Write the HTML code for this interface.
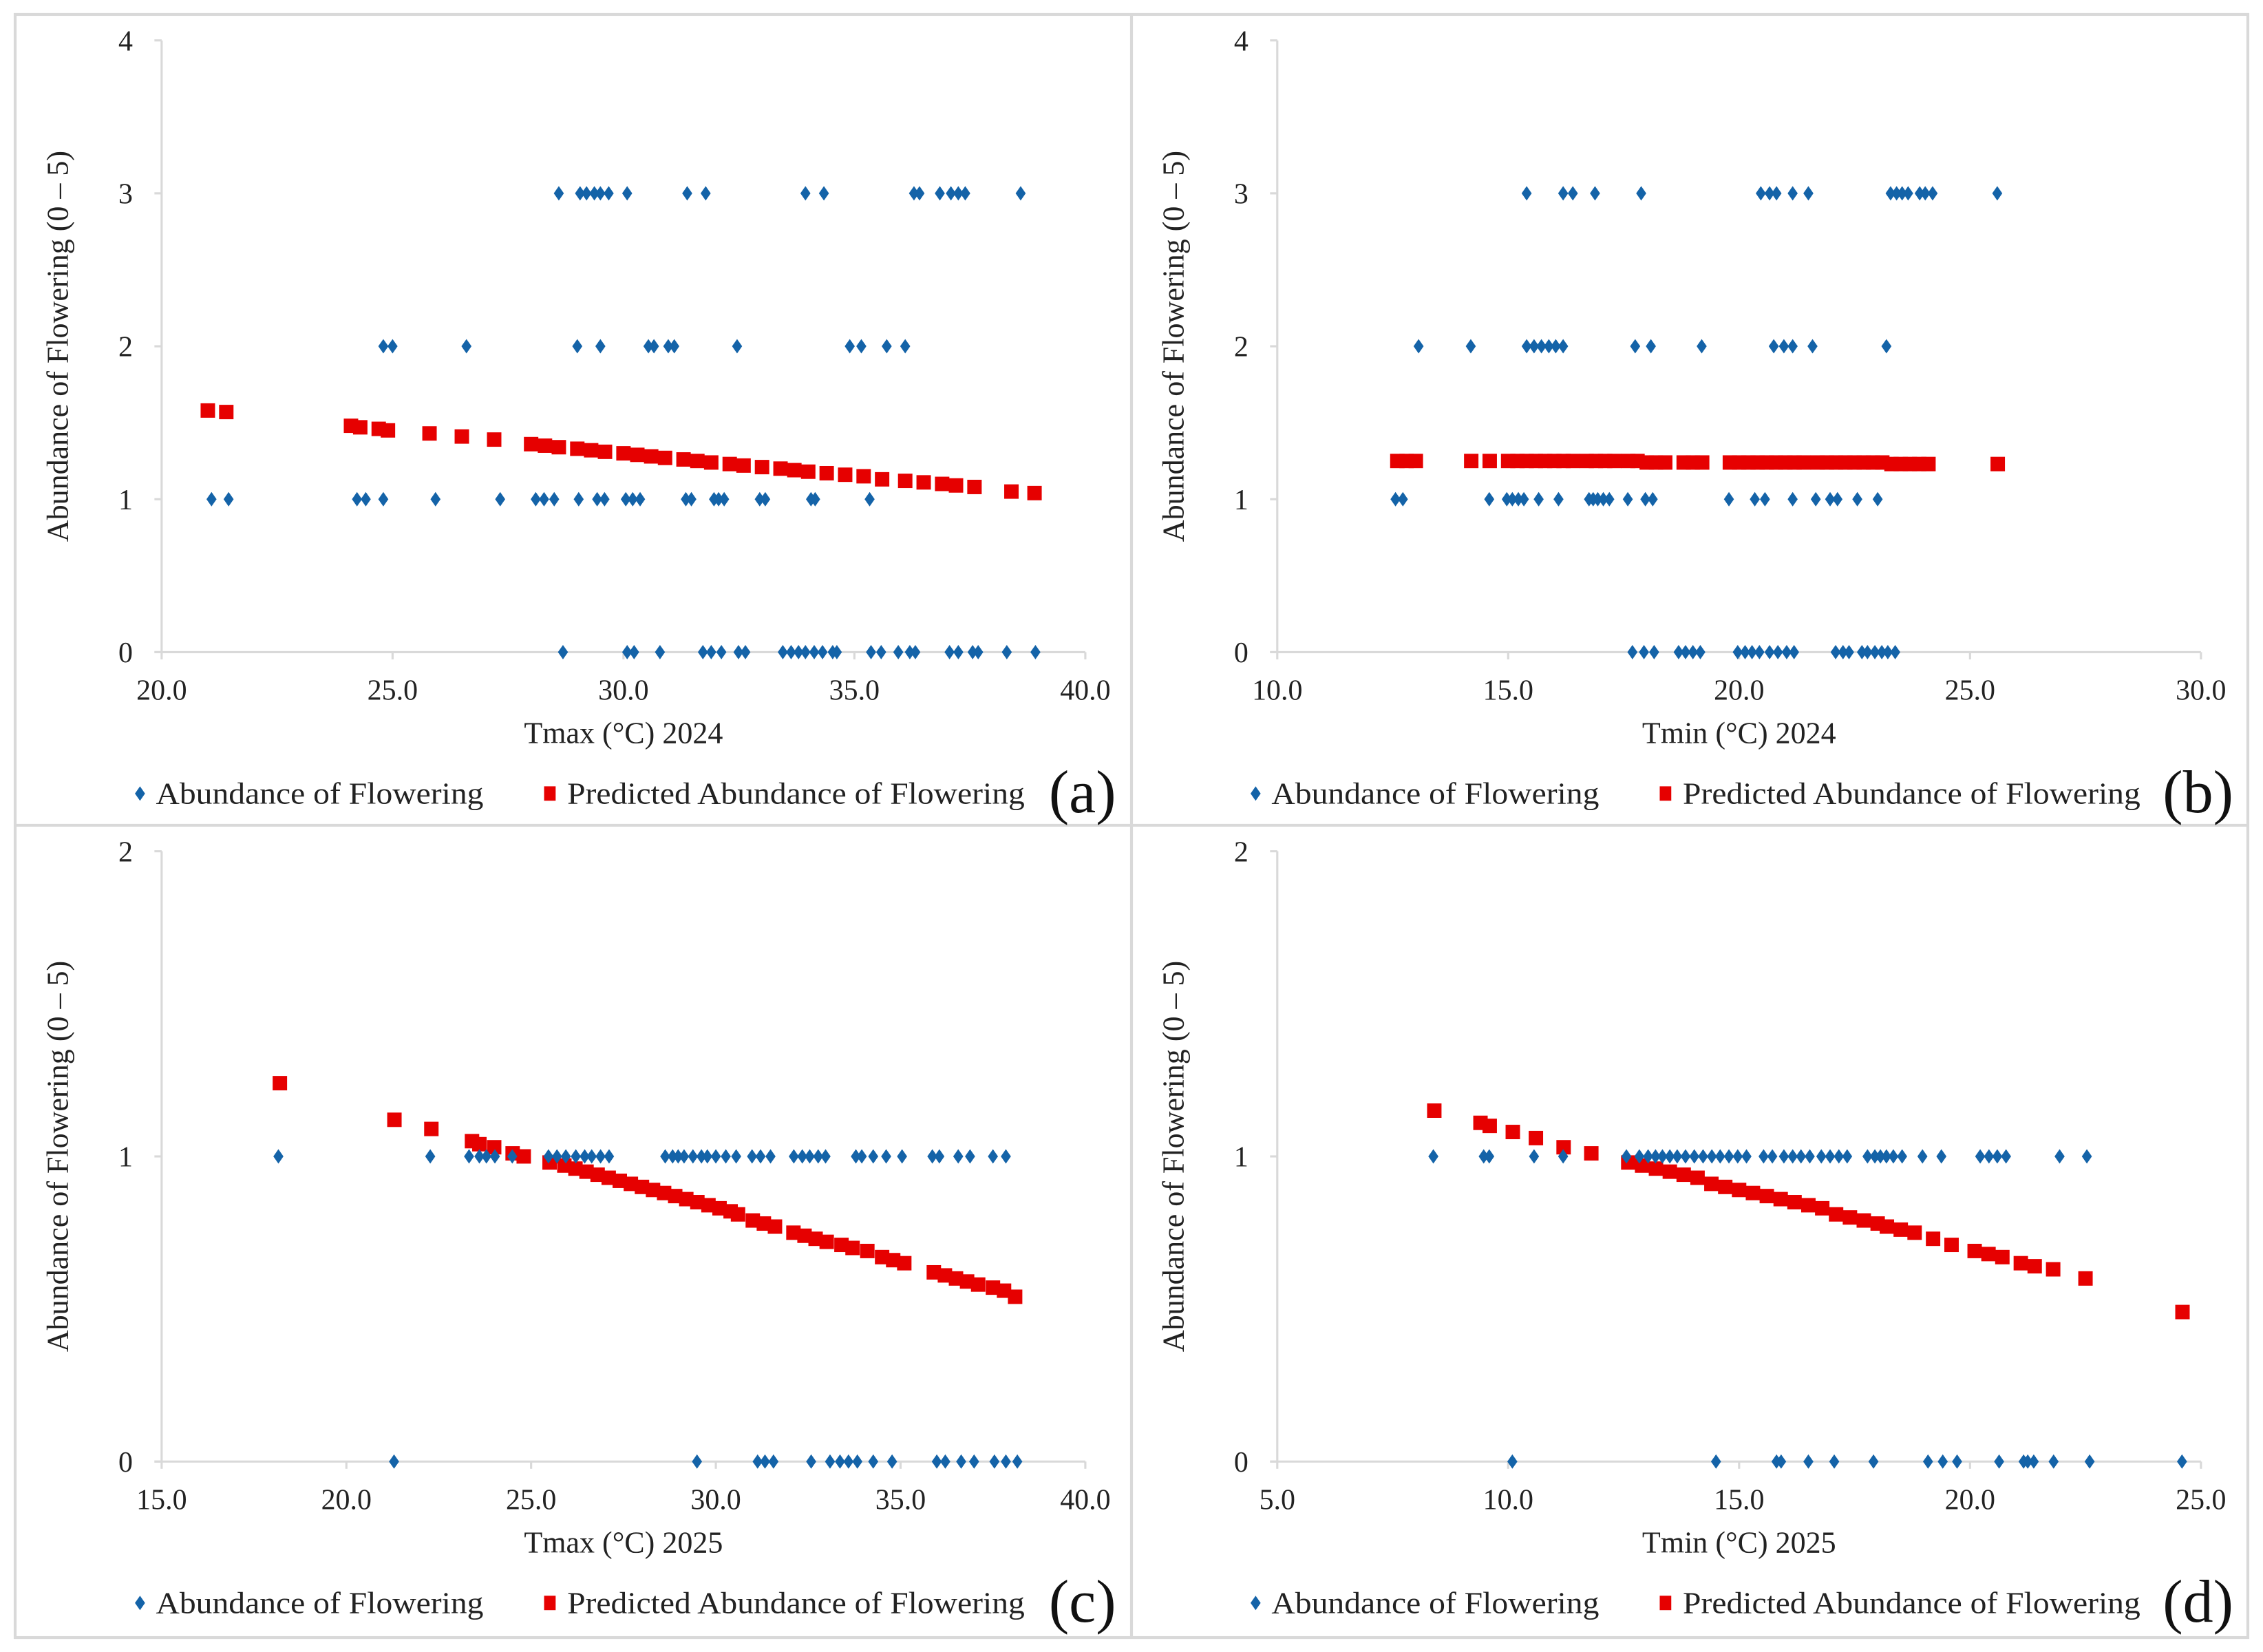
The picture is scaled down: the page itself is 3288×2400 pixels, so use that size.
<!DOCTYPE html>
<html><head><meta charset="utf-8"><style>
html,body{margin:0;padding:0;background:#fff;}
svg{display:block;font-family:"Liberation Serif",serif;}
svg text{font-family:"Liberation Serif",serif;}
</style></head><body>
<svg id="chart" width="3288" height="2400" viewBox="0 0 1568 1145" preserveAspectRatio="none" xmlns="http://www.w3.org/2000/svg">
<rect x="10.5" y="10" width="1547" height="1125" fill="#fff" stroke="#d9d9d9" stroke-width="2"/>
<line x1="784" y1="10" x2="784" y2="1135" stroke="#d9d9d9" stroke-width="2"/>
<line x1="10" y1="572" x2="1557" y2="572" stroke="#d9d9d9" stroke-width="2"/>
</svg>
<script>
// Panel (a) Tmax 2024
const aObsX3=[28.6,29.06,29.2,29.37,29.5,29.68,30.08,31.38,31.78,33.94,34.34,36.29,36.41,36.85,37.09,37.25,37.4,38.6];
const aObsX2=[24.8,25.0,26.6,29.0,29.5,30.54,30.66,30.97,31.1,32.46,34.9,35.15,35.7,36.1];
const aObsX1=[21.08,21.45,24.23,24.42,24.8,25.93,27.33,28.1,28.28,28.5,29.03,29.43,29.59,30.05,30.2,30.36,31.35,31.47,31.96,32.06,32.18,32.95,33.07,34.06,34.15,35.33];
const aObsX0=[28.69,30.08,30.23,30.79,31.72,31.9,32.12,32.49,32.64,33.45,33.63,33.79,33.94,34.13,34.31,34.53,34.62,35.36,35.58,35.95,36.2,36.32,37.06,37.25,37.56,37.68,38.3,38.92];
const aPredX=[21.0,21.4,24.1,24.3,24.7,24.9,25.8,26.5,27.2,28.0,28.3,28.6,29.0,29.3,29.6,30.0,30.3,30.6,30.9,31.3,31.6,31.9,32.3,32.6,33.0,33.4,33.7,34.0,34.4,34.8,35.2,35.6,36.1,36.5,36.9,37.2,37.6,38.4,38.9];
const aPredY=[1.58,1.57,1.48,1.47,1.46,1.45,1.43,1.41,1.39,1.36,1.35,1.34,1.33,1.32,1.31,1.30,1.29,1.28,1.27,1.26,1.25,1.24,1.23,1.22,1.21,1.20,1.19,1.18,1.17,1.16,1.15,1.13,1.12,1.11,1.10,1.09,1.08,1.05,1.04];
// Panel (b) Tmin 2024
const bObsX3=[15.4,16.19,16.4,16.88,17.88,20.47,20.66,20.81,21.16,21.5,23.28,23.41,23.53,23.66,23.91,24.03,24.19,25.59];
const bObsX2=[13.06,14.19,15.4,15.56,15.72,15.88,16.03,16.19,17.75,18.09,19.19,20.75,20.97,21.16,21.59,23.19];
const bObsX1=[12.56,12.72,14.59,14.97,15.09,15.22,15.34,15.66,16.09,16.75,16.84,16.94,17.06,17.19,17.59,17.97,18.13,19.78,20.34,20.56,21.16,21.66,21.97,22.13,22.56,23.0];
const bObsX0=[17.69,17.94,18.16,18.69,18.84,19.0,19.16,19.97,20.13,20.28,20.44,20.66,20.84,21.03,21.19,22.09,22.25,22.38,22.66,22.78,22.94,23.09,23.22,23.38];
const bPredX=[12.6,12.8,13.0,14.2,14.6,15.0,15.2,15.4,15.6,15.8,16.0,16.2,16.4,16.7,16.9,17.1,17.3,17.6,17.8,18.0,18.2,18.4,18.8,19.0,19.2,19.8,20.0,20.2,20.4,20.6,20.8,21.0,21.2,21.4,21.7,21.9,22.1,22.3,22.5,22.7,22.9,23.1,23.3,23.5,23.7,23.9,24.1,25.6];
const bPredY=[1.25,1.25,1.25,1.25,1.25,1.25,1.25,1.25,1.25,1.25,1.25,1.25,1.25,1.25,1.25,1.25,1.25,1.25,1.25,1.24,1.24,1.24,1.24,1.24,1.24,1.24,1.24,1.24,1.24,1.24,1.24,1.24,1.24,1.24,1.24,1.24,1.24,1.24,1.24,1.24,1.24,1.24,1.23,1.23,1.23,1.23,1.23,1.23];
// Panel (c) Tmax 2025
const cObsX1=[18.16,22.27,23.32,23.6,23.79,24.02,24.49,25.47,25.7,25.94,26.21,26.45,26.64,26.88,27.11,28.63,28.83,28.98,29.14,29.38,29.61,29.77,30.0,30.27,30.55,30.98,31.21,31.48,32.11,32.34,32.54,32.77,32.97,33.79,33.95,34.26,34.61,35.04,35.86,36.05,36.56,36.88,37.5,37.85];
const cObsX0=[21.29,29.49,31.13,31.33,31.56,32.58,33.09,33.36,33.59,33.83,34.26,34.77,35.98,36.21,36.64,36.99,37.54,37.85,38.16];
const cPredX=[18.2,21.3,22.3,23.4,23.6,24.0,24.5,24.8,25.5,25.9,26.2,26.5,26.8,27.1,27.4,27.7,28.0,28.3,28.6,28.9,29.2,29.5,29.8,30.1,30.4,30.6,31.0,31.3,31.6,32.1,32.4,32.7,33.0,33.4,33.7,34.1,34.5,34.8,35.1,35.9,36.2,36.5,36.8,37.1,37.5,37.8,38.1];
const cPredY=[1.24,1.12,1.09,1.05,1.04,1.03,1.01,1.00,0.98,0.97,0.96,0.95,0.94,0.93,0.92,0.91,0.90,0.89,0.88,0.87,0.86,0.85,0.84,0.83,0.82,0.81,0.79,0.78,0.77,0.75,0.74,0.73,0.72,0.71,0.70,0.69,0.67,0.66,0.65,0.62,0.61,0.60,0.59,0.58,0.57,0.56,0.54];
// Panel (d) Tmin 2025
const dObsX1=[8.38,9.47,9.59,10.56,11.19,12.56,12.84,13.03,13.19,13.34,13.5,13.66,13.84,14.03,14.22,14.41,14.59,14.78,14.97,15.16,15.53,15.72,15.97,16.16,16.34,16.53,16.78,16.97,17.16,17.34,17.78,17.94,18.06,18.19,18.34,18.53,18.97,19.38,20.22,20.41,20.59,20.78,21.94,22.53];
const dObsX0=[10.09,14.5,15.81,15.91,16.5,17.06,17.91,19.09,19.41,19.72,20.63,21.16,21.25,21.38,21.81,22.59,24.59];
const dPredX=[8.4,9.4,9.6,10.1,10.6,11.2,11.8,12.6,12.9,13.2,13.5,13.8,14.1,14.4,14.7,15.0,15.3,15.6,15.9,16.2,16.5,16.8,17.1,17.4,17.7,18.0,18.2,18.5,18.8,19.2,19.6,20.1,20.4,20.7,21.1,21.4,21.8,22.5,24.6];
const dPredY=[1.15,1.11,1.10,1.08,1.06,1.03,1.01,0.98,0.97,0.96,0.95,0.94,0.93,0.91,0.90,0.89,0.88,0.87,0.86,0.85,0.84,0.83,0.81,0.80,0.79,0.78,0.77,0.76,0.75,0.73,0.71,0.69,0.68,0.67,0.65,0.64,0.63,0.60,0.49];
const aXTicks=["20.0","25.0","30.0","35.0","40.0"];
const bXTicks=["10.0","15.0","20.0","25.0","30.0"];
const cXTicks=["15.0","20.0","25.0","30.0","35.0","40.0"];
const dXTicks=["5.0","10.0","15.0","20.0","25.0"];
const abYTicks=["0","1","2","3","4"];
const cdYTicks=["0","1","2"];

const NS="http://www.w3.org/2000/svg";
const svg=document.getElementById('chart');
const FF='Liberation Serif, serif';
function mk(tag,attrs,parent){const e=document.createElementNS(NS,tag);for(const k in attrs)e.setAttribute(k,attrs[k]);if(tag==='text')e.setAttribute('font-family',FF);(parent||svg).appendChild(e);return e;}

function panel(o){
  const g=mk('g',{});
  
  
  const xmin=parseFloat(o.xt[0]),xmax=parseFloat(o.xt[o.xt.length-1]);
  const ymax=parseFloat(o.yt[o.yt.length-1]);
  const X=v=>o.L+(v-xmin)/(xmax-xmin)*(o.R-o.L);
  const Y=v=>o.B-v/ymax*(o.B-o.T);
  const yax=mk('line',{x1:o.L,y1:o.T,x2:o.L,y2:o.B,stroke:'#d9d9d9','stroke-width':1.5},g);
  
  
  const xax=mk('line',{x1:o.L-5,y1:o.B,x2:o.R,y2:o.B,stroke:'#d9d9d9','stroke-width':1.5},g);
  
  
  o.yt.forEach(t=>{const v=parseFloat(t);
    mk('line',{x1:o.L-5,y1:Y(v),x2:o.L,y2:Y(v),stroke:'#d9d9d9','stroke-width':1.5},g);
    const tx=mk('text',{x:o.L-20,y:Y(v)+7,'text-anchor':'end','font-size':20,fill:'#222'},g);
    
    
    tx.textContent=t;});
  o.xt.forEach(t=>{const v=parseFloat(t);
    mk('line',{x1:X(v),y1:o.B,x2:X(v),y2:o.B+5,stroke:'#d9d9d9','stroke-width':1.5},g);
    const tx=mk('text',{x:X(v),y:o.B+33,'text-anchor':'middle','font-size':20,fill:'#222'},g);
    
    
    tx.textContent=t;});
  const yt=mk('text',{x:0,y:0,'text-anchor':'middle','font-size':21,fill:'#222',transform:`translate(${o.yl},${(o.T+o.B)/2}) rotate(-90)`},g);
  
  
  yt.textContent='Abundance of Flowering (0 – 5)';
  const xtl=mk('text',{x:(o.L+o.R)/2,y:o.B+63,'text-anchor':'middle','font-size':21,fill:'#222'},g);
  
  
  xtl.textContent=o.xlabel;
  o.px.forEach((x,i)=>{
    const r=mk('rect',{x:X(x)-5,y:Y(o.py[i])-5,width:10,height:10,fill:'#e60000'},g);
    
    
  });
  o.obs.forEach(([lvl,arr])=>arr.forEach(x=>{
    const cx=X(x),cy=Y(lvl);
    const p=mk('polygon',{points:`${cx},${cy-5} ${cx+3.5},${cy} ${cx},${cy+5} ${cx-3.5},${cy}`,fill:'#1463a8'},g);
    
    
  }));
  const ly=o.B+98;
  const d=mk('polygon',{points:`${o.lx},${ly-5} ${o.lx+3.5},${ly} ${o.lx},${ly+5} ${o.lx-3.5},${ly}`,fill:'#1463a8'},g);
  
  
  const t1=mk('text',{x:o.lx+11,y:ly+7,'font-size':21,fill:'#222',textLength:227,lengthAdjust:'spacingAndGlyphs'},g);
  
  
  t1.textContent='Abundance of Flowering';
  const s=mk('rect',{x:o.lx+280,y:ly-5,width:8,height:10,fill:'#e60000'},g);
  
  
  const t2=mk('text',{x:o.lx+296,y:ly+7,'font-size':21,fill:'#222',textLength:317,lengthAdjust:'spacingAndGlyphs'},g);
  
  
  t2.textContent='Predicted Abundance of Flowering';
  const pl=mk('text',{x:o.lx+653,y:ly+13,'text-anchor':'middle','font-size':42,fill:'#111'},g);
  
  
  pl.textContent='('+o.id+')';
}
panel({id:'a',L:112,R:752,T:28,B:452,yl:47,lx:97,xt:aXTicks,yt:abYTicks,xlabel:'Tmax (°C) 2024',px:aPredX,py:aPredY,obs:[[3,aObsX3],[2,aObsX2],[1,aObsX1],[0,aObsX0]]});
panel({id:'b',L:885,R:1525,T:28,B:452,yl:820,lx:870,xt:bXTicks,yt:abYTicks,xlabel:'Tmin (°C) 2024',px:bPredX,py:bPredY,obs:[[3,bObsX3],[2,bObsX2],[1,bObsX1],[0,bObsX0]]});
panel({id:'c',L:112,R:752,T:590,B:1013,yl:47,lx:97,xt:cXTicks,yt:cdYTicks,xlabel:'Tmax (°C) 2025',px:cPredX,py:cPredY,obs:[[1,cObsX1],[0,cObsX0]]});
panel({id:'d',L:885,R:1525,T:590,B:1013,yl:820,lx:870,xt:dXTicks,yt:cdYTicks,xlabel:'Tmin (°C) 2025',px:dPredX,py:dPredY,obs:[[1,dObsX1],[0,dObsX0]]});
</script>
</body></html>
